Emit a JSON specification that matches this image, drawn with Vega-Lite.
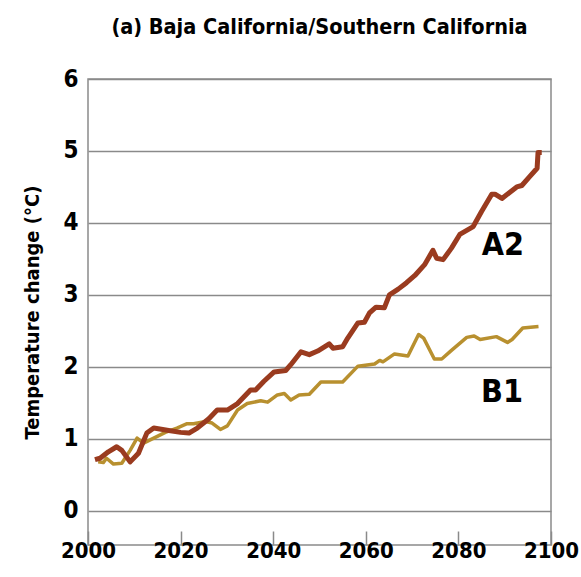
{
  "$schema": "https://vega.github.io/schema/vega-lite/v6.json",
  "autosize": {"type": "none"},
  "padding": {"left": 88, "top": 79, "right": 30, "bottom": 32},
  "width": 463,
  "height": 466,
  "background": "white",
  "title": {
    "text": "(a) Baja California/Southern California",
    "font": "DejaVu Sans Condensed",
    "fontWeight": "bold",
    "fontSize": 21.5,
    "color": "#000000",
    "anchor": "middle",
    "baseline": "alphabetic",
    "offset": 12
  },
  "config": {
    "view": {"stroke": "#8a8a8a", "strokeWidth": 1.5},
    "font": "DejaVu Sans Condensed"
  },
  "datasets": {
    "a2": [
      {"year": 2001.5, "value": 0.71}, {"year": 2002.6, "value": 0.73}, {"year": 2004.4, "value": 0.82},
      {"year": 2006.2, "value": 0.89}, {"year": 2007.3, "value": 0.84}, {"year": 2009.1, "value": 0.68},
      {"year": 2010.9, "value": 0.80}, {"year": 2012.7, "value": 1.08}, {"year": 2014.2, "value": 1.15},
      {"year": 2017.1, "value": 1.12}, {"year": 2020.0, "value": 1.09}, {"year": 2021.8, "value": 1.08},
      {"year": 2023.6, "value": 1.15}, {"year": 2026.1, "value": 1.28}, {"year": 2027.9, "value": 1.40},
      {"year": 2030.1, "value": 1.40}, {"year": 2032.3, "value": 1.49}, {"year": 2035.1, "value": 1.68},
      {"year": 2036.2, "value": 1.68}, {"year": 2038.0, "value": 1.80}, {"year": 2040.2, "value": 1.93},
      {"year": 2042.7, "value": 1.95}, {"year": 2043.8, "value": 2.03}, {"year": 2046.0, "value": 2.21},
      {"year": 2047.8, "value": 2.17}, {"year": 2049.6, "value": 2.22}, {"year": 2052.1, "value": 2.32},
      {"year": 2052.9, "value": 2.26}, {"year": 2055.0, "value": 2.28}, {"year": 2056.1, "value": 2.40},
      {"year": 2058.3, "value": 2.61}, {"year": 2059.7, "value": 2.62}, {"year": 2060.8, "value": 2.75},
      {"year": 2062.2, "value": 2.83}, {"year": 2064.0, "value": 2.82}, {"year": 2065.1, "value": 3.00},
      {"year": 2067.0, "value": 3.08}, {"year": 2068.8, "value": 3.17}, {"year": 2070.6, "value": 3.27},
      {"year": 2072.7, "value": 3.42}, {"year": 2074.5, "value": 3.62}, {"year": 2075.3, "value": 3.51},
      {"year": 2076.7, "value": 3.49}, {"year": 2078.5, "value": 3.65}, {"year": 2080.3, "value": 3.84},
      {"year": 2083.2, "value": 3.95}, {"year": 2085.0, "value": 4.16}, {"year": 2087.2, "value": 4.40},
      {"year": 2087.9, "value": 4.40}, {"year": 2089.4, "value": 4.34}, {"year": 2091.2, "value": 4.43},
      {"year": 2092.6, "value": 4.50}, {"year": 2093.7, "value": 4.52}, {"year": 2095.2, "value": 4.63},
      {"year": 2097.0, "value": 4.76}, {"year": 2097.2, "value": 4.98}, {"year": 2098.0, "value": 4.98}
    ],
    "b1": [
      {"year": 2002.2, "value": 0.68}, {"year": 2003.3, "value": 0.67}, {"year": 2004.0, "value": 0.73},
      {"year": 2005.5, "value": 0.65}, {"year": 2007.3, "value": 0.66}, {"year": 2009.1, "value": 0.84},
      {"year": 2010.6, "value": 1.01}, {"year": 2012.0, "value": 0.94}, {"year": 2014.2, "value": 1.01},
      {"year": 2016.7, "value": 1.09}, {"year": 2019.2, "value": 1.15}, {"year": 2021.4, "value": 1.21},
      {"year": 2022.8, "value": 1.21}, {"year": 2025.4, "value": 1.24}, {"year": 2026.8, "value": 1.22},
      {"year": 2028.6, "value": 1.13}, {"year": 2030.1, "value": 1.18}, {"year": 2032.3, "value": 1.40},
      {"year": 2034.4, "value": 1.49}, {"year": 2037.3, "value": 1.53}, {"year": 2038.8, "value": 1.51},
      {"year": 2040.9, "value": 1.61}, {"year": 2042.4, "value": 1.63}, {"year": 2043.8, "value": 1.54},
      {"year": 2045.6, "value": 1.61}, {"year": 2047.8, "value": 1.62}, {"year": 2050.3, "value": 1.79},
      {"year": 2055.0, "value": 1.79}, {"year": 2058.3, "value": 2.01}, {"year": 2061.9, "value": 2.04},
      {"year": 2063.0, "value": 2.09}, {"year": 2063.7, "value": 2.07}, {"year": 2066.2, "value": 2.18},
      {"year": 2069.1, "value": 2.15}, {"year": 2071.4, "value": 2.45}, {"year": 2072.5, "value": 2.40},
      {"year": 2074.8, "value": 2.11}, {"year": 2076.4, "value": 2.11}, {"year": 2078.5, "value": 2.23},
      {"year": 2081.8, "value": 2.41}, {"year": 2083.4, "value": 2.43}, {"year": 2084.7, "value": 2.38},
      {"year": 2088.2, "value": 2.42}, {"year": 2090.6, "value": 2.34}, {"year": 2091.6, "value": 2.38},
      {"year": 2093.9, "value": 2.54}, {"year": 2097.3, "value": 2.56}
    ],
    "labels": [
      {"year": 2089.6, "value": 3.56, "label": "A2"},
      {"year": 2089.4, "value": 1.51, "label": "B1"}
    ]
  },
  "encoding": {
    "x": {
      "field": "year", "type": "quantitative",
      "scale": {"domain": [2000, 2100], "nice": false, "zero": false},
      "axis": {
        "title": null,
        "values": [2000, 2020, 2040, 2060, 2080, 2100],
        "format": "d",
        "domain": false,
        "grid": false,
        "ticks": true,
        "tickSize": -14,
        "tickColor": "#8a8a8a",
        "tickWidth": 1.5,
        "labelFont": "DejaVu Sans Condensed",
        "labelFontWeight": "bold",
        "labelFontSize": 22,
        "labelColor": "#000000",
        "labelPadding": 9,
        "labelFlush": false,
        "labelBaseline": "top"
      }
    },
    "y": {
      "field": "value", "type": "quantitative",
      "scale": {"domain": [-0.475, 6], "nice": false, "zero": false},
      "axis": {
        "title": "Temperature change (°C)",
        "titleFont": "DejaVu Sans Condensed",
        "titleFontWeight": "bold",
        "titleFontSize": 20,
        "titleColor": "#000000",
        "titlePadding": 20,
        "values": [0, 1, 2, 3, 4, 5, 6],
        "format": "d",
        "domain": false,
        "ticks": false,
        "grid": true,
        "gridColor": "#8a8a8a",
        "gridWidth": 1.5,
        "gridOpacity": 1,
        "labelFont": "DejaVu Sans Condensed",
        "labelFontWeight": "bold",
        "labelFontSize": 24,
        "labelColor": "#000000",
        "labelPadding": 10
      }
    }
  },
  "layer": [
    {
      "data": {"name": "b1"},
      "mark": {"type": "line", "stroke": "#b8902f", "strokeWidth": 3.5, "strokeJoin": "round", "strokeCap": "butt"}
    },
    {
      "data": {"name": "a2"},
      "mark": {"type": "line", "stroke": "#9a3b1f", "strokeWidth": 5, "strokeJoin": "round", "strokeCap": "butt"}
    },
    {
      "data": {"name": "labels"},
      "mark": {"type": "text", "font": "DejaVu Sans Condensed", "fontWeight": "bold", "fontSize": 32, "color": "#000000", "align": "center", "baseline": "alphabetic"},
      "encoding": {"text": {"field": "label", "type": "nominal"}}
    }
  ]
}
